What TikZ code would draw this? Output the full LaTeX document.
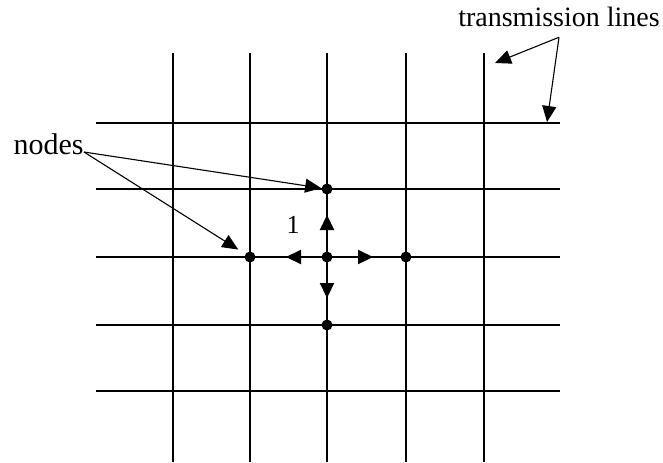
\documentclass[tikz,border=0pt]{standalone}
\usepackage{fontspec}
\setmainfont{Liberation Serif}
\usetikzlibrary{arrows.meta,positioning,calc}

\begin{document}
\begin{tikzpicture}[x=0.5pt,y=-0.5pt,
    wire/.style={line width=0.75pt},
    dot/.style={circle,fill,inner sep=0pt,minimum size=5.5pt},
    lbl/.style={font=\fontsize{14}{16}\selectfont,inner sep=0pt},
    ptr/.style={-{Triangle[length=8pt,width=7pt]},line width=0.55pt},
    flow/.style={-{Triangle[length=7.5pt,width=7pt]},line width=1.1pt}]
  \useasboundingbox (0,0) rectangle (663,462);
  % transmission line grid
  \foreach \x in {173,250,327,406,484}
    \draw[wire] (\x,53)--(\x,462);
  \foreach \y in {123,189,257,325,391}
    \draw[wire] (96,\y)--(560,\y);
  % nodes of the mesh
  \node[dot] (mid) at (327,257) {};
  \node[dot] (up) at (327,189) {};
  \node[dot] (lt) at (250,257) {};
  \node[dot] (rt) at (406,257) {};
  \node[dot] (dn) at (327,325) {};
  % pulses leaving the centre node
  \coordinate (pN) at (327,215);
  \coordinate (pW) at (286,257);
  \coordinate (pE) at (373,257);
  \coordinate (pS) at (327,298);
  \foreach \p in {pN,pW,pE,pS}
    \draw[flow] (mid)--(\p);
  \node[font=\fontsize{13}{15}\selectfont,inner sep=0pt] (one) at (293,225) {1};
  % labels
  \node[lbl,font=\fontsize{15}{17}\selectfont,anchor=base east] (nodestxt) at (84,154) {nodes};
  \draw[ptr] ([yshift=1pt]nodestxt.base east)--(up);
  \draw[ptr,shorten >=4pt] ([yshift=1pt]nodestxt.base east)--(lt);
  \node[lbl] (tltxt) at (559,17) {transmission lines};
  \coordinate[below=5pt of tltxt] (fork);
  \coordinate (tl1) at (495,63);
  \coordinate (tl2) at (547,122);
  \draw[ptr] (fork)--(tl1);
  \draw[ptr] (fork)--(tl2);
\end{tikzpicture}
\end{document}
